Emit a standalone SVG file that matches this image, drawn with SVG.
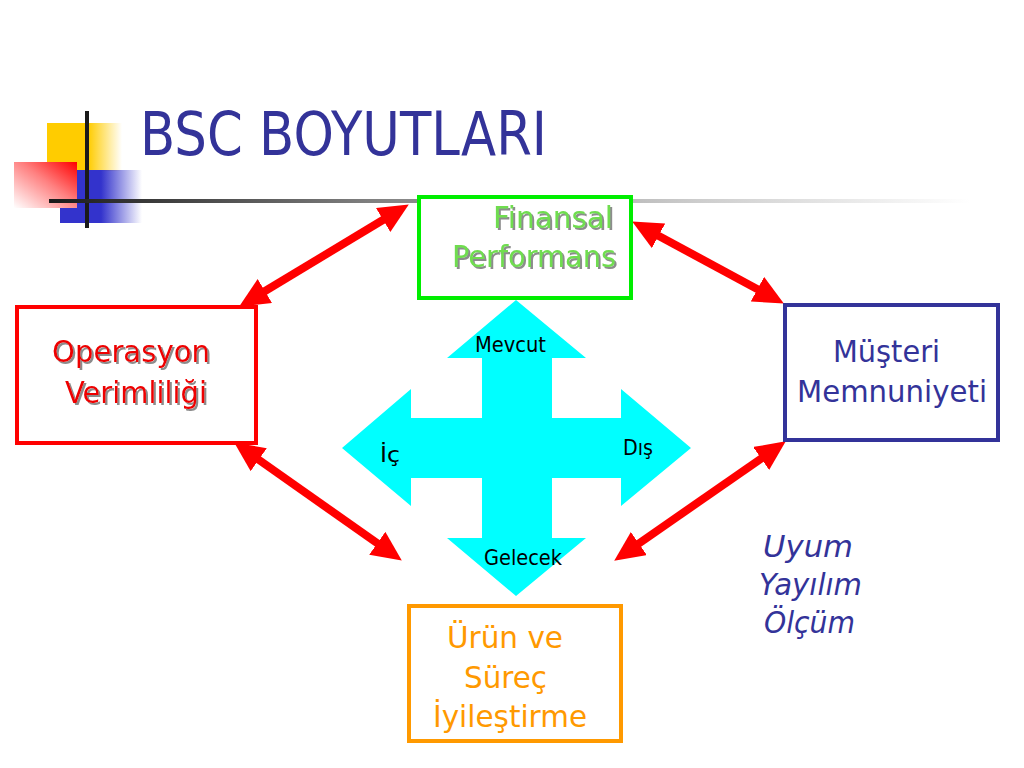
<svg xmlns="http://www.w3.org/2000/svg" width="1024" height="768" viewBox="0 0 1024 768">
<defs>
<linearGradient id="gYellow" x1="0" y1="0" x2="1" y2="0">
<stop offset="0" stop-color="#ffcc00"/><stop offset="0.55" stop-color="#ffcc00"/><stop offset="1" stop-color="#ffcc00" stop-opacity="0"/>
</linearGradient>
<linearGradient id="gRed" x1="1" y1="0" x2="0" y2="1">
<stop offset="0" stop-color="#ff0000"/><stop offset="0.45" stop-color="#ff8080"/><stop offset="1" stop-color="#ffffff"/>
</linearGradient>
<linearGradient id="gBlue" x1="0" y1="0" x2="1" y2="0">
<stop offset="0" stop-color="#3333cc"/><stop offset="0.5" stop-color="#3333cc"/><stop offset="1" stop-color="#3333cc" stop-opacity="0"/>
</linearGradient>
<linearGradient id="gLine" gradientUnits="userSpaceOnUse" x1="49" y1="0" x2="970" y2="0">
<stop offset="0" stop-color="#1a1a1a"/><stop offset="0.35" stop-color="#808080"/><stop offset="0.7" stop-color="#cccccc"/><stop offset="1" stop-color="#ffffff"/>
</linearGradient>
<marker id="head" viewBox="0 0 30 28" refX="7" refY="14" markerWidth="30" markerHeight="28" markerUnits="userSpaceOnUse" orient="auto-start-reverse">
<path d="M0,0 L30,14 L0,28 z" fill="#ff0000"/>
</marker>
<filter id="shadow" x="-10%" y="-20%" width="130%" height="150%">
<feDropShadow dx="2" dy="2" stdDeviation="0.6" flood-color="#8c8c8c" flood-opacity="1"/>
</filter>
<style>
.t{font-family:"DejaVu Sans","Liberation Sans",sans-serif;}
.box{fill:#ffffff;stroke-width:4;}
.lbl{font-family:"DejaVu Sans","Liberation Sans",sans-serif;font-size:31px;}
.small{font-family:"DejaVu Sans","Liberation Sans",sans-serif;font-size:21px;fill:#000000;}
.conn{stroke:#ff0000;stroke-width:8;fill:none;marker-start:url(#head);marker-end:url(#head);}
</style>
</defs>
<rect width="1024" height="768" fill="#ffffff"/>

<g id="logo">
<rect x="47" y="123" width="75" height="48" fill="url(#gYellow)"/>
<rect x="60" y="170" width="82" height="53" fill="url(#gBlue)"/>
<rect x="14" y="162" width="63" height="46" fill="url(#gRed)"/>
<rect x="85" y="111" width="4" height="117" fill="#1a1a1a"/>
<rect x="49" y="199" width="921" height="4" fill="url(#gLine)"/>
</g>

<text id="title" class="t" x="140" y="155" font-size="60" fill="#333399" textLength="407" lengthAdjust="spacingAndGlyphs">BSC BOYUTLARI</text>

<g id="cross">
<polygon points="516,300 586,358 552,358 552,418 621,418 621,389 691,448 621,506 621,478 552,478 552,538 586,538 516,596 447,538 482,538 482,478 411,478 411,506 342,448 411,389 411,418 482,418 482,358 447,358" fill="#00ffff"/>
<text class="small" x="475" y="352" textLength="71" lengthAdjust="spacingAndGlyphs">Mevcut</text>
<text class="small" x="380" y="462" textLength="20" lengthAdjust="spacingAndGlyphs">İç</text>
<text class="small" x="623" y="455" textLength="30" lengthAdjust="spacingAndGlyphs">Dış</text>
<text class="small" x="484" y="565" textLength="78" lengthAdjust="spacingAndGlyphs">Gelecek</text>
</g>

<g id="connectors">
<line class="conn" x1="258.9" y1="294.7" x2="389.1" y2="216.3"/>
<line class="conn" x1="652.4" y1="232.5" x2="763.6" y2="292.5"/>
<line class="conn" x1="253" y1="455.7" x2="383" y2="547.3"/>
<line class="conn" x1="766.9" y1="454.5" x2="633.1" y2="547.5"/>
</g>

<g id="finansal">
<rect class="box" x="419" y="197" width="212" height="101" stroke="#00ee00"/>
<g filter="url(#shadow)" fill="#70dd50">
<text class="lbl" x="493" y="228" textLength="120" lengthAdjust="spacingAndGlyphs">Finansal</text>
<text class="lbl" x="452" y="267" textLength="164" lengthAdjust="spacingAndGlyphs">Performans</text>
</g>
</g>

<g id="operasyon">
<rect class="box" x="17" y="307" width="239" height="136" stroke="#ff0000"/>
<g filter="url(#shadow)" fill="#ee0000">
<text class="lbl" x="52" y="362" textLength="158" lengthAdjust="spacingAndGlyphs">Operasyon</text>
<text class="lbl" x="65" y="403" textLength="142" lengthAdjust="spacingAndGlyphs">Verimliliği</text>
</g>
</g>

<g id="musteri">
<rect class="box" x="785" y="305" width="213" height="135" stroke="#333399"/>
<text class="lbl" x="833" y="362" fill="#333399" textLength="107" lengthAdjust="spacingAndGlyphs">Müşteri</text>
<text class="lbl" x="797" y="402" fill="#333399" textLength="190" lengthAdjust="spacingAndGlyphs">Memnuniyeti</text>
</g>

<g id="urun">
<rect class="box" x="409" y="606" width="212" height="135" stroke="#ff9900"/>
<text class="lbl" x="447" y="648" fill="#ff9900" textLength="116" lengthAdjust="spacingAndGlyphs">Ürün ve</text>
<text class="lbl" x="464" y="688" fill="#ff9900" textLength="83" lengthAdjust="spacingAndGlyphs">Süreç</text>
<text class="lbl" x="433" y="727" fill="#ff9900" textLength="154" lengthAdjust="spacingAndGlyphs">İyileştirme</text>
</g>

<g id="uyum">
<text class="lbl" x="763" y="557" fill="#333399" font-style="italic" textLength="90" lengthAdjust="spacingAndGlyphs">Uyum</text>
<text class="lbl" x="759" y="595" fill="#333399" font-style="italic" textLength="103" lengthAdjust="spacingAndGlyphs">Yayılım</text>
<text class="lbl" x="764" y="633" fill="#333399" font-style="italic" textLength="91" lengthAdjust="spacingAndGlyphs">Ölçüm</text>
</g>
</svg>
